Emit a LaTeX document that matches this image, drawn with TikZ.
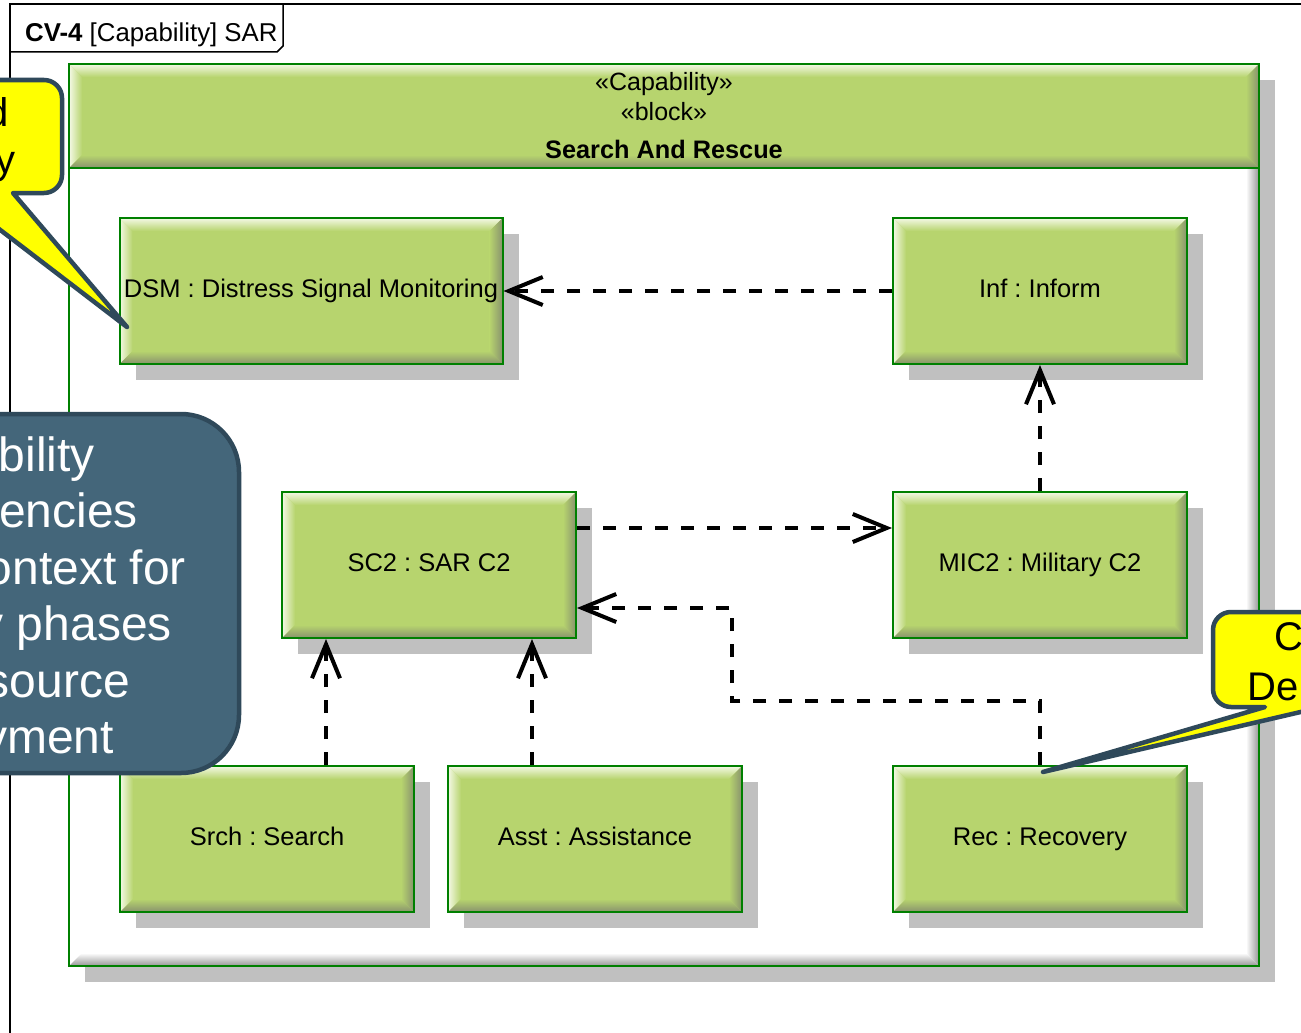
\documentclass[tikz,border=0pt]{standalone}
\usepackage{fontspec}
\setmainfont{Liberation Sans}
\usetikzlibrary{arrows.meta,calc}
\frenchspacing

\definecolor{blockgreen}{RGB}{183,212,110}
\definecolor{bevellight}{RGB}{244,249,230}
\definecolor{beveldark}{RGB}{136,146,110}
\definecolor{edgegreen}{RGB}{0,128,0}
\definecolor{shadowgray}{RGB}{192,192,192}
\definecolor{bodygray}{RGB}{150,150,150}
\definecolor{noteyellow}{RGB}{255,255,0}
\definecolor{noteedge}{RGB}{47,73,90}
\definecolor{notefill}{RGB}{68,102,122}

\tikzset{
  % rectangle with a 13pt bevel: light top/left, dark right/bottom
  bevelled/.style n args={3}{
    fill=#1,
    path picture={
      \coordinate (bnw) at (path picture bounding box.north west);
      \coordinate (bne) at (path picture bounding box.north east);
      \coordinate (bsw) at (path picture bounding box.south west);
      \coordinate (bse) at (path picture bounding box.south east);
      \shade[top color=#2, bottom color=#1]
        (bnw) -- (bne) -- ([shift={(-13pt,-13pt)}]bne) -- ([shift={(13pt,-13pt)}]bnw) -- cycle;
      \shade[left color=#2, right color=#1]
        (bnw) -- ([shift={(13pt,-13pt)}]bnw) -- ([shift={(13pt,13pt)}]bsw) -- (bsw) -- cycle;
      \shade[left color=#1, right color=#3]
        (bne) -- (bse) -- ([shift={(-13pt,13pt)}]bse) -- ([shift={(-13pt,-13pt)}]bne) -- cycle;
      \shade[top color=#1, bottom color=#3]
        (bsw) -- (bse) -- ([shift={(-13pt,13pt)}]bse) -- ([shift={(13pt,13pt)}]bsw) -- cycle;
    }
  },
  blockshadow/.style={preaction={fill=shadowgray, draw=none,
      transform canvas={shift={(16pt,-16pt)}}}},
  block/.style={bevelled={blockgreen}{bevellight}{beveldark}, draw=edgegreen,
    line width=2pt, blockshadow, minimum width=294pt, minimum height=146pt,
    inner sep=0pt, font=\fontsize{25.5pt}{30pt}\selectfont,
    text height=18pt, text depth=5pt},
  headtext/.style={inner sep=0pt, anchor=base, font=\fontsize{25pt}{30pt}\selectfont},
  dep/.style={draw=black, line width=4pt, dash pattern=on 13pt off 13pt,
    -{Straight Barb[length=34pt,width=28pt]}},
  noteline/.style={draw=noteedge, line width=4.5pt, line join=round},
  notetext/.style={inner sep=0pt, font=\fontsize{40pt}{47pt}\selectfont},
  slatetext/.style={inner sep=0pt, anchor=base east, text=white,
    font=\fontsize{48pt}{56pt}\selectfont},
  frameline/.style={draw=black, line width=1.5pt},
}

\begin{document}
\begin{tikzpicture}[x=1pt, y=-1pt]
\useasboundingbox (0,0) rectangle (1301,1033);
\clip (0,0) rectangle (1301,1033);
\fill[white] (0,0) rectangle (1301,1033);

% diagram frame with its name tab
\draw[frameline] (1320,4) -- (10,4) -- (10,1050);
\draw[frameline] (10,52) -- (277,52) -- (283,46) -- (283,4);
\node[inner sep=0pt, anchor=base west, font=\fontsize{25.8pt}{30pt}\selectfont]
  (frametitle) at (25,42) {\textbf{CV-4} [Capability] SAR};

% enclosing capability block
\node[bevelled={white}{white}{bodygray}, draw=edgegreen, line width=2pt,
  blockshadow, minimum width=1190pt, minimum height=902pt, inner sep=0pt]
  (SAR) at (664,515) {};
\node[bevelled={blockgreen}{bevellight}{beveldark}, draw=edgegreen, line width=2pt,
  minimum width=1190pt, minimum height=104pt, inner sep=0pt]
  (SARhead) at (664,116) {};
\node[headtext] (hcap) at (664,91) {«Capability»};
\node[headtext] (hblk) at (664,120) {«block»};
\node[headtext, font=\fontsize{25.3pt}{30pt}\selectfont\bfseries] (hname) at (664,158) {Search And Rescue};

% parts
\node[block, minimum width=383pt] (DSM) at (311,291) {DSM : Distress Signal Monitoring};
\node[block] (Inf)  at (1040,291) {Inf : Inform};
\node[block] (SC2)  at (429,565)  {SC2 : SAR C2};
\node[block] (MIC2) at (1040,565) {MIC2 : Military C2};
\node[block] (Srch) at (267,839)  {Srch : Search};
\node[block] (Asst) at (595,839)  {Asst : Assistance};
\node[block] (Rec)  at (1040,839) {Rec : Recovery};

% dependencies
\draw[dep] (Inf.west) -- (DSM.east);
\draw[dep] (MIC2.north) -- (Inf.south);
\draw[dep] ([yshift=37pt]SC2.east) -- ([yshift=37pt]MIC2.west);
\coordinate (recbend) at (732,701);
\draw[dep] (Rec.north) |- (recbend) |- ([yshift=-43pt]SC2.east);
\draw[dep] ([xshift=59pt]Srch.north) -- ([xshift=59pt]Srch.north |- SC2.south);
\draw[dep] ([xshift=-63pt]Asst.north) -- ([xshift=-63pt]Asst.north |- SC2.south);

% note pointing at DSM
\draw[noteline, fill=noteyellow]
  (-80,80) -- (44,80) arc[start angle=270, end angle=360, radius=18]
  -- (62,175) arc[start angle=0, end angle=90, radius=18]
  -- (13,193) -- (127,327) -- (-48,193) -- (-80,193) -- cycle;
\node[notetext, anchor=base east] (noteA1) at (9,126) {d};
\node[notetext, anchor=base east] (noteA2) at (16,173) {y};

% slate comment box
\draw[noteline, fill=notefill, rounded corners=58pt] (-120,414) rectangle (239,773);
\node[slatetext] (slate1) at (95,471) {bility};
\node[slatetext] (slate2) at (138,527.5) {encies};
\node[slatetext] (slate3) at (186,584) {ontext for};
\node[slatetext] (slate4) at (172,640.5) {y phases};
\node[slatetext] (slate5) at (130,697) {source};
\node[slatetext] (slate6) at (114,753.5) {yment};

% note pointing at Rec
\draw[noteline, fill=noteyellow]
  (1400,612) -- (1231,612) arc[start angle=270, end angle=180, radius=18]
  -- (1213,689) arc[start angle=180, end angle=90, radius=18]
  -- (1265,707) -- (1043,772) -- (1322,707) -- (1400,707) -- cycle;
\node[notetext, anchor=base west] (noteB1) at (1274,650) {C};
\node[notetext, anchor=base west] (noteB2) at (1247,700) {De};
\end{tikzpicture}
\end{document}
